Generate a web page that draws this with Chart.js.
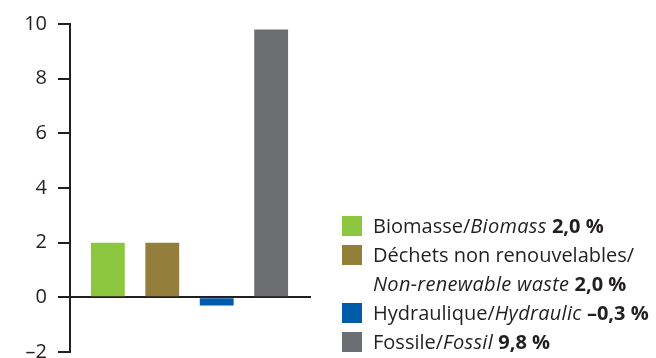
<!DOCTYPE html>
<html>
<head>
<meta charset="utf-8">
<script src="https://cdn.jsdelivr.net/npm/chart.js@4/dist/chart.umd.min.js"></script>
<style>
  html, body { margin: 0; padding: 0; background: #fff; }
  #wrap { position: relative; width: 656px; height: 358px; overflow: hidden; }
  #chart { position: absolute; left: 0; top: 0; }
  #legend {
    position: absolute; left: 342px; top: 211px;
    font-family: "Open Sans", sans-serif; font-size: 20px; line-height: 29px;
    color: #231f20;
  }
  .item { position: relative; padding-left: 31px; width: 300px; }
  .swatch { position: absolute; left: 0; top: 5px; width: 20px; height: 20px; }
  .item i { font-style: italic; white-space: nowrap; letter-spacing: 0.3px; }
  .item b { font-weight: 700; white-space: nowrap; }
</style>
</head>
<body>
<div id="wrap">
  <canvas id="chart" width="656" height="358"></canvas>
  <div id="legend"></div>
</div>
<script>
// Growth by energy source, in %
const frenchNames  = ['Biomasse', 'Déchets non renouvelables', 'Hydraulique', 'Fossile'];
const englishNames = ['Biomass', 'Non-renewable waste', 'Hydraulic', 'Fossil'];
const changes      = [2.0, 2.0, -0.3, 9.8];
const barColors    = ['#8dc63f', '#937f3b', '#005baa', '#6d6e71'];
const yTicks       = [-2, 0, 2, 4, 6, 8, 10];

const ink = '#231f20';
const fmt = v => (v < 0 ? '\u2013' : '') + Math.abs(v).toFixed(1).replace('.', ',');

new Chart(document.getElementById('chart'), {
  type: 'bar',
  data: {
    datasets: [{
      data: changes.map((v, i) => ({ x: i, y: v })),
      backgroundColor: barColors,
      borderWidth: 0,
      categoryPercentage: 1,
      barPercentage: 0.622
    }]
  },
  options: {
    responsive: false,
    animation: false,
    events: [],
    layout: { padding: { left: 0, right: 345, top: 24, bottom: 6 } },
    plugins: { legend: { display: false }, tooltip: { enabled: false } },
    scales: {
      x: {
        type: 'linear',
        min: -0.695,
        max: 3.732,
        offset: false,
        bounds: 'data',
        grace: 0,
        display: false,
        // one tick per source, so bar slots are one unit wide
        afterBuildTicks: s => { s.ticks = changes.map((v, i) => ({ value: i })); }
      },
      y: {
        min: yTicks[0],
        max: yTicks[yTicks.length - 1],
        z: 1,
        afterFit: s => { s.width = 70; s.paddingTop = 0; s.paddingBottom = 0; },
        afterBuildTicks: s => { s.ticks = yTicks.map(v => ({ value: v })); },
        border: { display: true, color: ink, width: 2 },
        grid: {
          color: c => (c.tick && c.tick.value === 0 ? ink : 'rgba(0,0,0,0)'),
          tickColor: ink,
          lineWidth: 2,
          tickLength: 12,
          drawTicks: true
        },
        ticks: {
          color: ink,
          padding: 11,
          font: { family: '"Open Sans", sans-serif', size: 20 },
          callback: v => (v < 0 ? '\u2013' + Math.abs(v) : String(v))
        }
      }
    }
  }
});

// Bilingual legend: French / English (italic) and the value in bold
const legend = document.getElementById('legend');
frenchNames.forEach((fr, i) => {
  const row = document.createElement('div');
  row.className = 'item';
  row.innerHTML =
    '<span class="swatch" style="background:' + barColors[i] + '"></span>' +
    fr + '/<wbr><i>' + englishNames[i] + '</i> <b>' + fmt(changes[i]) + '\u00a0%</b>';
  legend.appendChild(row);
});
</script>
</body>
</html>
